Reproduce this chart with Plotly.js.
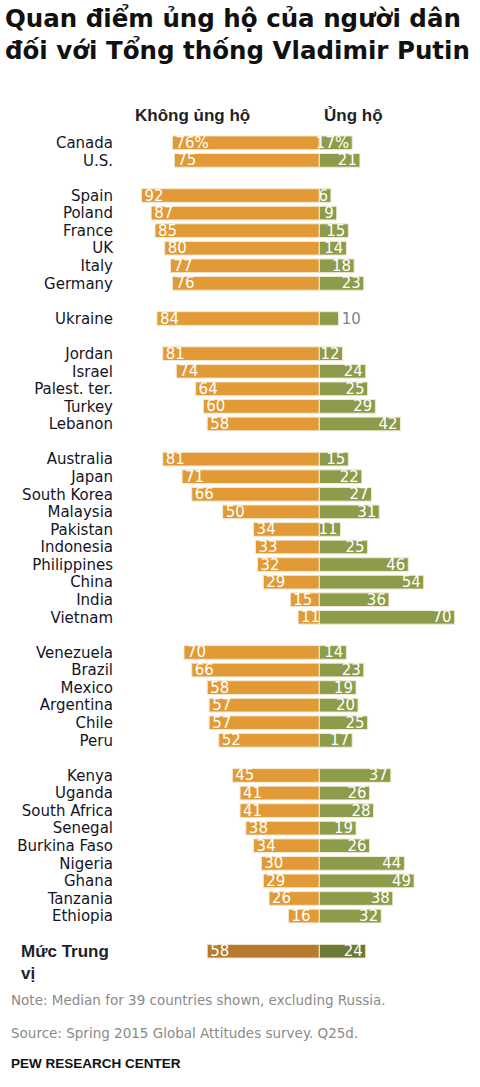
<!DOCTYPE html>
<html>
<head>
<meta charset="utf-8">
<script src="https://cdn.plot.ly/plotly-3.0.1.min.js"></script>
<style>
  html, body { margin: 0; padding: 0; background: #fff; }
  #chart { width: 480px; height: 1087px; }
</style>
</head>
<body>
<div id="chart"></div>
<script>
const countries = ["Canada","U.S.","Spain","Poland","France","UK","Italy","Germany","Ukraine",
  "Jordan","Israel","Palest. ter.","Turkey","Lebanon",
  "Australia","Japan","South Korea","Malaysia","Pakistan","Indonesia","Philippines","China","India","Vietnam",
  "Venezuela","Brazil","Mexico","Argentina","Chile","Peru",
  "Kenya","Uganda","South Africa","Senegal","Burkina Faso","Nigeria","Ghana","Tanzania","Ethiopia",
  "Mức Trung vị"];
const regions = ["NA","NA","EU","EU","EU","EU","EU","EU","UA",
  "ME","ME","ME","ME","ME",
  "AS","AS","AS","AS","AS","AS","AS","AS","AS","AS",
  "LA","LA","LA","LA","LA","LA",
  "AF","AF","AF","AF","AF","AF","AF","AF","AF",
  "MED"];
const unfavorable = [76,75,92,87,85,80,77,76,84,81,74,64,60,58,81,71,66,50,34,33,32,29,15,11,70,66,58,57,57,52,45,41,41,38,34,30,29,26,16,58];
const favorable   = [17,21,6,9,15,14,18,23,10,12,24,25,29,42,15,22,27,31,11,25,46,54,36,70,14,23,19,20,25,17,37,26,28,19,26,44,49,38,32,24];
const headerLeft = "Không ủng hộ";
const headerRight = "Ủng hộ";
const medianLabel = "Mức Trung<br>vị";
const titleText = "Quan điểm ủng hộ của người dân<br>đối với Tổng thống Vladimir Putin";
const noteText = "Note: Median for 39 countries shown, excluding Russia.";
const sourceText = "Source: Spring 2015 Global Attitudes survey. Q25d.";
const creditText = "PEW RESEARCH CENTER";

// row positions: one blank row between region groups
const rows = [];
let r = 0;
regions.forEach((g, i) => {
  if (i > 0 && g !== regions[i - 1]) r++;
  rows.push(r);
  r++;
});
const nRows = r;
const isMedian = regions.map(g => g === "MED");

const orange = "#E29A36", orangeDark = "#B87A2E";
const green = "#8D9C4A", greenDark = "#6B7A37";
const edge = "#F2EAD6";

const fontLabel = "DejaVu Sans, sans-serif";
const fontBold = "Liberation Sans, Arial, sans-serif";

const traceOpp = {
  type: "bar", orientation: "h",
  x: unfavorable.map(v => -v), y: rows,
  text: unfavorable.map((v, i) => i === 0 ? v + "%" : String(v)),
  textposition: "inside", insidetextanchor: "end", textangle: 0,
  constraintext: "none",
  textfont: { family: fontLabel, size: 15, color: "#ffffff" },
  marker: { color: isMedian.map(m => m ? orangeDark : orange), line: { color: edge, width: 1 } },
  hoverinfo: "skip"
};
const traceFav = {
  type: "bar", orientation: "h",
  x: favorable, y: rows,
  text: favorable.map((v, i) => i === 0 ? v + "%" : String(v)),
  textposition: countries.map(c => c === "Ukraine" ? "outside" : "inside"),
  insidetextanchor: "end", textangle: 0,
  constraintext: "none",
  textfont: { family: fontLabel, size: 15, color: "#ffffff" },
  insidetextfont: { family: fontLabel, size: 15, color: "#ffffff" },
  outsidetextfont: { family: fontLabel, size: 15, color: "#7E8290" },
  marker: { color: isMedian.map(m => m ? greenDark : green), line: { color: edge, width: 1 } },
  cliponaxis: false,
  hoverinfo: "skip"
};

const W = 480, H = 1087;
const mL = 126, mR = 6, mT = 134, mB = 127;
const pw = W - mL - mR, ph = H - mT - mB;
const px = x => (x - mL) / pw;          // pixel -> paper x
const py = y => (H - mB - y) / ph;      // pixel -> paper y

const medianRow = rows[isMedian.indexOf(true)];

const layout = {
  width: W, height: H,
  margin: { l: mL, r: mR, t: mT, b: mB, pad: 0 },
  paper_bgcolor: "#ffffff", plot_bgcolor: "#ffffff",
  barmode: "relative", bargap: 0.22,
  showlegend: false,
  hovermode: false,
  xaxis: {
    range: [-100, 80], showgrid: false, zeroline: false,
    showticklabels: false, ticks: "", fixedrange: true
  },
  yaxis: {
    range: [nRows - 0.5, -0.5], showgrid: false, zeroline: false,
    tickmode: "array", tickvals: rows.filter((_, i) => !isMedian[i]),
    ticktext: countries.filter((_, i) => !isMedian[i]),
    ticks: "", ticklabelstandoff: 12,
    tickfont: { family: fontLabel, size: 15, color: "#15151f" },
    fixedrange: true
  },
  annotations: [
    { text: "<b>" + titleText + "</b>", xref: "paper", yref: "paper",
      x: px(3), y: py(1), xanchor: "left", yanchor: "top", align: "left", showarrow: false,
      font: { family: "DejaVu Sans, sans-serif", size: 24.5, color: "#111111" } },
    { text: "<b>" + headerLeft + "</b>", xref: "paper", yref: "paper",
      x: px(192.5), y: py(115), xanchor: "center", yanchor: "middle", showarrow: false,
      font: { family: fontBold, size: 17, color: "#1f1f2a" } },
    { text: "<b>" + headerRight + "</b>", xref: "paper", yref: "paper",
      x: px(322), y: py(115), xanchor: "left", yanchor: "middle", showarrow: false,
      font: { family: fontBold, size: 17, color: "#1f1f2a" } },
    { text: "<b>" + medianLabel + "</b>", xref: "paper", yref: "y",
      x: px(19), y: medianRow - 0.62, xanchor: "left", yanchor: "top", align: "left", showarrow: false,
      font: { family: fontBold, size: 17, color: "#1f1f2a" } },
    { text: noteText, xref: "paper", yref: "paper",
      x: px(9), y: py(1000), xanchor: "left", yanchor: "middle", showarrow: false,
      font: { family: fontLabel, size: 13.5, color: "#8a8a8a" } },
    { text: sourceText, xref: "paper", yref: "paper",
      x: px(9), y: py(1033), xanchor: "left", yanchor: "middle", showarrow: false,
      font: { family: fontLabel, size: 13.5, color: "#8a8a8a" } },
    { text: "<b>" + creditText + "</b>", xref: "paper", yref: "paper",
      x: px(9), y: py(1063), xanchor: "left", yanchor: "middle", showarrow: false,
      font: { family: fontBold, size: 13.5, color: "#111111" } }
  ]
};

Plotly.newPlot("chart", [traceOpp, traceFav], layout, { displayModeBar: false, staticPlot: true });
</script>
</body>
</html>
